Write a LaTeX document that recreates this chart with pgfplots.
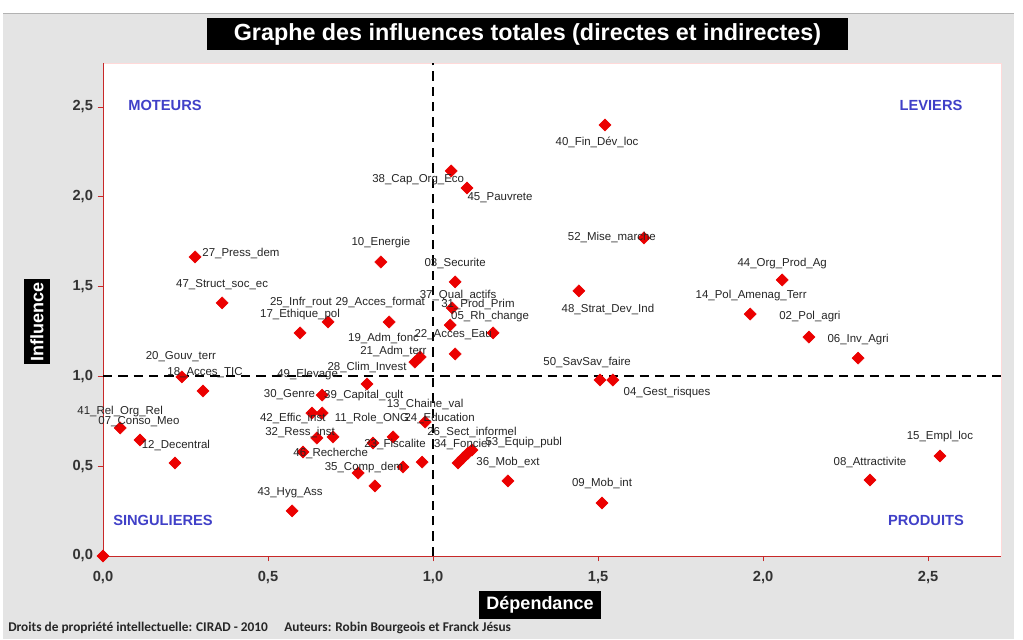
\documentclass[border=0pt]{standalone}
\usepackage{fontspec}
\setmainfont{Liberation Sans}
\newfontfamily\calibri{Carlito}
\usepackage{pgfplots}
\pgfplotsset{compat=1.18}
\usepackage{pgfplotstable}

\definecolor{bggray}{RGB}{228,228,228}
\definecolor{quadblue}{RGB}{64,64,200}
\definecolor{axisred}{RGB}{200,40,40}
\definecolor{ptred}{RGB}{235,0,0}

\pgfplotstableread{
x y
1.521 2.400
1.055 2.144
1.103 2.049
1.639 1.771
0.279 1.665
0.842 1.637
1.067 1.526
2.058 1.537
1.442 1.476
0.361 1.409
1.961 1.347
2.139 1.219
2.288 1.102
0.682 1.303
0.597 1.242
0.867 1.303
1.058 1.381
1.052 1.286
1.182 1.242
0.961 1.108
0.945 1.080
1.067 1.125
0.800 0.958
0.239 0.997
0.303 0.919
0.052 0.713
0.112 0.646
0.218 0.518
0.573 0.251
0.664 0.896
0.633 0.796
0.664 0.796
0.976 0.746
0.648 0.657
0.697 0.663
0.879 0.663
0.606 0.579
0.818 0.629
0.967 0.523
0.909 0.496
0.773 0.462
0.824 0.390
1.076 0.518
1.091 0.546
1.106 0.573
1.118 0.590
1.227 0.418
1.512 0.295
1.506 0.980
1.545 0.980
2.536 0.557
2.324 0.423
0 0
}\points

\pgfplotstableread{
x y label
1.497 2.300 40\_Fin\_Dév\_loc
0.955 2.094 38\_Cap\_Org\_Eco
1.203 1.993 45\_Pauvrete
1.542 1.776 52\_Mise\_marche
0.418 1.682 27\_Press\_dem
0.842 1.743 10\_Energie
1.067 1.631 03\_Securite
2.058 1.631 44\_Org\_Prod\_Ag
1.530 1.375 48\_Strat\_Dev\_Ind
0.361 1.509 47\_Struct\_soc\_ec
1.964 1.453 14\_Pol\_Amenag\_Terr
2.142 1.336 02\_Pol\_agri
2.288 1.208 06\_Inv\_Agri
2.536 0.663 15\_Empl\_loc
2.324 0.523 08\_Attractivite
1.512 0.406 09\_Mob\_int
1.227 0.518 36\_Mob\_ext
1.467 1.075 50\_SavSav\_faire
1.709 0.908 04\_Gest\_risques
0.236 1.108 20\_Gouv\_terr
0.309 1.019 18\_Acces\_TIC
0.052 0.807 41\_Rel\_Org\_Rel
0.109 0.746 07\_Conso\_Meo
0.221 0.618 12\_Decentral
0.567 0.351 43\_Hyg\_Ass
0.597 1.342 17\_Ethique\_pol
0.600 1.409 25\_Infr\_rout
0.840 1.409 29\_Acces\_format
1.076 1.453 37\_Qual\_actifs
1.136 1.398 31\_Prod\_Prim
1.173 1.336 05\_Rh\_change
1.061 1.230 22\_Acces\_Eau
0.850 1.210 19\_Adm\_fonc
0.880 1.140 21\_Adm\_terr
0.800 1.052 28\_Clim\_Invest
0.620 1.008 49\_Elevage
0.565 0.896 30\_Genre
0.790 0.896 39\_Capital\_cult
0.976 0.846 13\_Chaine\_val
0.575 0.763 42\_Effic\_inst
0.815 0.763 11\_Role\_ONG
1.020 0.763 24\_Education
0.597 0.685 32\_Ress\_inst
1.118 0.685 26\_Sect\_informel
0.690 0.573 46\_Recherche
0.885 0.620 23\_Fiscalite
1.090 0.620 34\_Foncier
1.275 0.629 53\_Equip\_publ
0.791 0.490 35\_Comp\_dem
}\labels

\begin{document}
\begin{tikzpicture}
\path[use as bounding box] (0,0) rectangle (767.25pt,479.25pt);
\fill[white] (0,0) rectangle (767.25pt,479.25pt);
\begin{scope}[x=0.75pt,y=-0.75pt,yshift=479.25pt]
\fill[bggray] (3,14) rectangle (1014,639);
\draw[gray!60, line width=0.6pt] (3,13) -- (1014,13);
\end{scope}

\begin{axis}[
  at={(77.25pt,62.25pt)}, anchor=south west,
  scale only axis, width=673.5pt, height=369.75pt,
  xmin=0, xmax=2.721, ymin=0, ymax=2.745,
  xtick={0,0.5,1,1.5,2,2.5}, ytick={0,0.5,1,1.5,2,2.5},
  axis background/.style={fill=white},
  axis line style={draw=red!15},
  tick style={draw=axisred, line width=0.5pt},
  major tick length=4pt, tick align=outside,
  xtick pos=bottom, ytick pos=left,
  tick label style={font=\fontsize{11}{12}\selectfont\bfseries, text=black!80},
  xticklabel style={yshift=-3.75pt},
  /pgf/number format/fixed,
  /pgf/number format/fixed zerofill,
  /pgf/number format/precision=1,
  /pgf/number format/use comma,
  /pgf/number format/assume math mode=true,
  clip=false,
]
\draw[axisred, line width=0.6pt] (rel axis cs:0,1) -- (rel axis cs:0,0) -- (rel axis cs:1,0);
\addplot[black, line width=1.5pt, dash pattern=on 7pt off 4.5pt] coordinates {(1,0) (1,2.745)};
\addplot[black, line width=1.5pt, dash pattern=on 7pt off 4.5pt] coordinates {(0,1) (2.721,1)};
\addplot[only marks, mark=square*, mark size=3.2pt, color=ptred, mark options={rotate=45}] table[x=x,y=y] {\points};
\addplot[only marks, mark=*, mark size=0pt, mark options={draw=none,fill=none},
  nodes near coords, point meta=explicit symbolic,
  every node near coord/.style={anchor=center, inner sep=0pt, text=black!85,
    font=\fontsize{8.6}{9}\selectfont}]
  table[x=x,y=y,meta=label] {\labels};
\end{axis}

\begin{scope}[x=0.75pt,y=-0.75pt,yshift=479.25pt]
\node[fill=black, text=white, minimum width=480.75pt, minimum height=24pt, inner sep=0pt,
  font=\fontsize{17.5}{20}\selectfont\bfseries] at (527.5,34) {Graphe des influences totales (directes et indirectes)};
\node[fill=black, text=white, minimum width=91.5pt, minimum height=21pt, inner sep=0pt,
  font=\fontsize{13.5}{15}\selectfont\bfseries] at (540,605) {Dépendance};
\node[fill=black, text=white, minimum width=63.75pt, minimum height=19.5pt, inner sep=0pt,
  rotate=90, font=\fontsize{13.5}{15}\selectfont\bfseries] at (37,322) {Influence};
\node[anchor=west, inner sep=0pt, text=black!85, font=\calibri\fontsize{10}{11}\selectfont\bfseries]
  at (8,628) {Droits de propriété intellectuelle: CIRAD - 2010\quad\ Auteurs: Robin Bourgeois et Franck Jésus};
\begin{scope}[every node/.style={text=quadblue, inner sep=0pt, font=\fontsize{11}{12}\selectfont\bfseries}]
\node at (165,105) {MOTEURS};
\node at (931,105) {LEVIERS};
\node at (163,520) {SINGULIERES};
\node at (926,520) {PRODUITS};
\end{scope}
\end{scope}
\end{tikzpicture}
\end{document}
